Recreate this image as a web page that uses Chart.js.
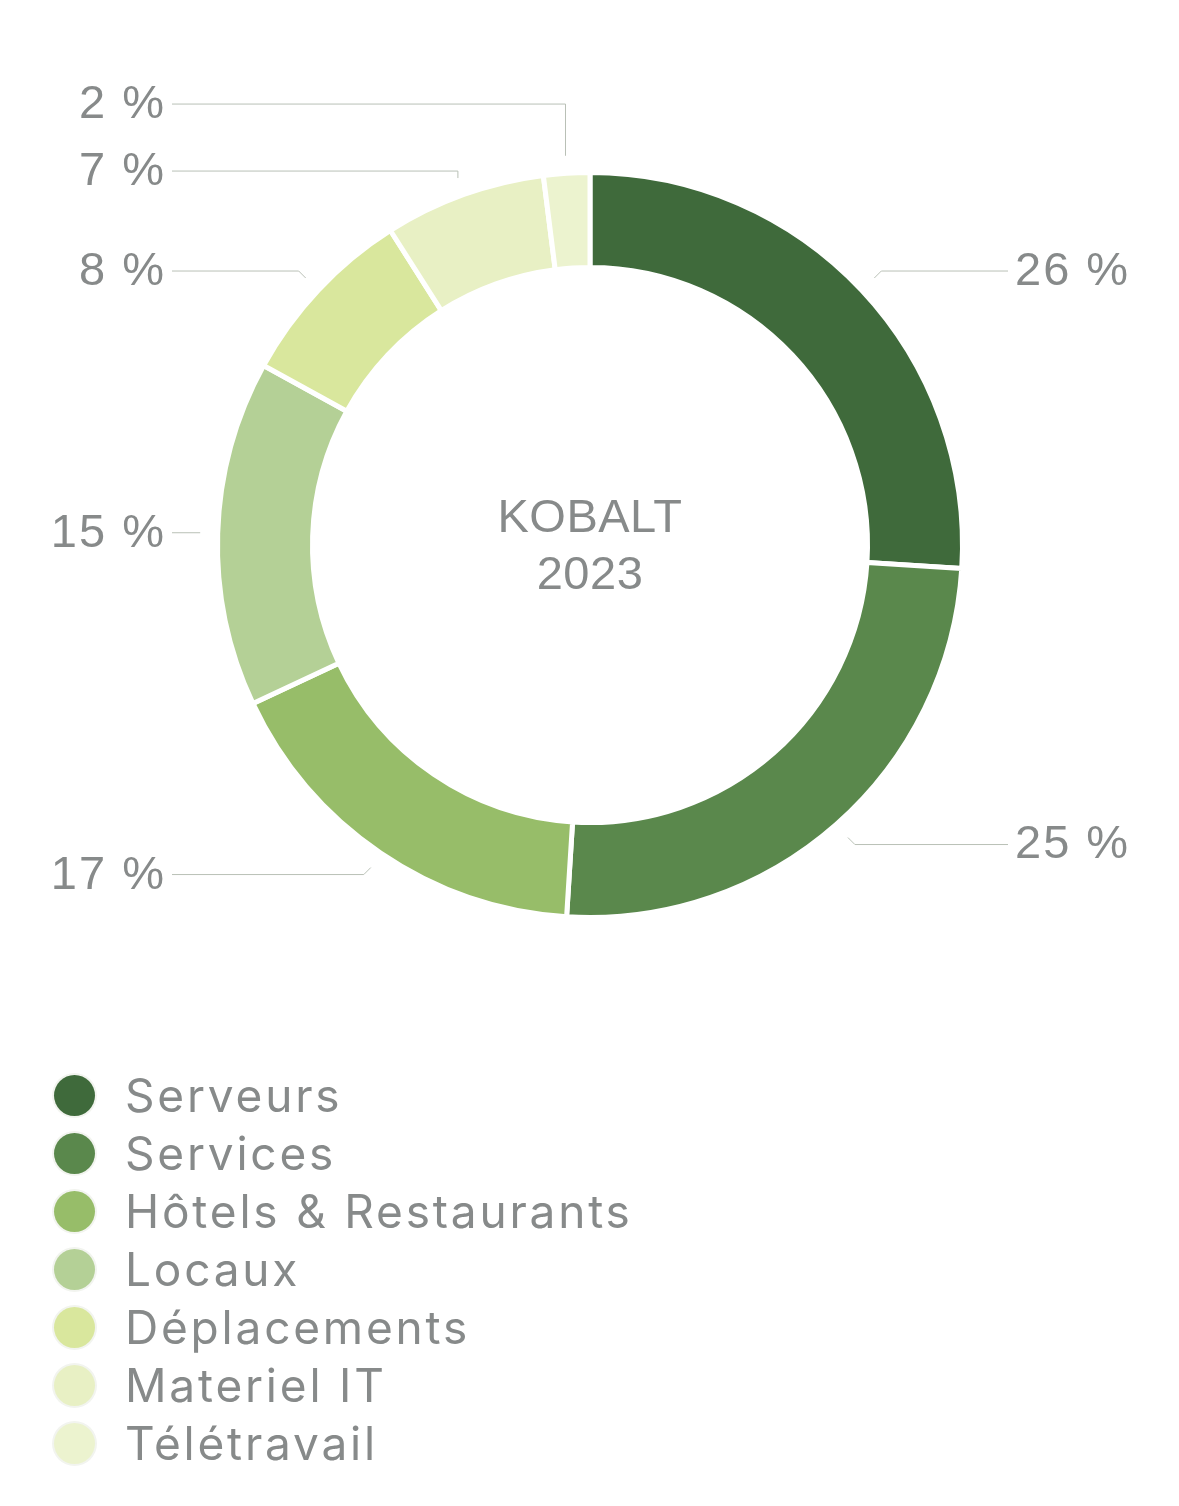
<!DOCTYPE html>
<html><head><meta charset="utf-8">
<script src="https://cdn.jsdelivr.net/npm/chart.js@4/dist/chart.umd.min.js"></script>
<style>
html,body{margin:0;padding:0;background:#fff;}
#page{position:relative;width:1179px;height:1506px;overflow:hidden;}
#c{position:absolute;left:0;top:0;}
#legend{position:absolute;left:0;top:1066px;margin:0;padding:0;list-style:none;}
#legend li{height:58px;display:flex;align-items:center;font-family:Inter,"Open Sans",sans-serif;font-size:46px;color:#878a8a;letter-spacing:2.8px;white-space:nowrap;}
#legend .dot{display:inline-block;width:41px;height:41px;border-radius:50%;margin-left:54px;margin-right:30px;box-shadow:0 0 0 2px #f2f4ef;flex:none;}
</style></head><body>
<div id="page">
<canvas id="c" width="1179" height="1090"></canvas>
<ul id="legend"></ul>
</div>
<script>
const categories = ['Serveurs','Services','Hôtels & Restaurants','Locaux','Déplacements','Materiel IT','Télétravail'];
const values = [26,25,17,15,8,7,2];
const colors = ['#3f6a3b','#5a884c','#97bd69','#b4d096','#d9e79d','#e8f0c4','#ecf3cf'];
const centerLines = ['KOBALT','2023'];
const unit = ' %';

const TEXT = '#878a8a';
const LINE = '#b9c0b6';

const leaderPlugin = {
  id:'leaders',
  afterDatasetsDraw(chart){
    const ctx = chart.ctx;
    const meta = chart.getDatasetMeta(0);
    const items = meta.data.map((arc,i)=>{
      const p = arc.getProps(['x','y','startAngle','endAngle','outerRadius'], true);
      const mid = (p.startAngle+p.endAngle)/2;
      const c = Math.cos(mid), s = Math.sin(mid);
      const r = p.outerRadius + 17.5;
      const ax = p.x + c*r, ay = p.y + s*r;
      const right = c >= 0;
      let mode, ly, ex;
      if (Math.abs(s) < 0.3){ mode='straight'; ly = ay; ex = ax; }
      else if (Math.abs(c) < 0.45){ mode='vertical'; ly = ay + Math.sign(s)*7; ex = ax; }
      else { mode='diag'; ly = ay + Math.sign(s)*7; ex = ax + (right?7:-7); }
      const lineEnd = p.x + (right?1:-1)*(p.outerRadius + 45.5);
      return {i, ax, ay, ly, ex, mode, right, lineEnd};
    });
    [true,false].forEach(side=>{
      const list = items.filter(o=>o.right===side).sort((a,b)=>b.ly-a.ly);
      for (let k=1;k<list.length;k++){
        if (list[k].ly > list[k-1].ly - 67){
          list[k].ly = list[k-1].ly - 67;
          list[k].mode = 'vertical'; list[k].ex = list[k].ax;
        }
      }
    });
    ctx.save();
    ctx.strokeStyle = LINE; ctx.lineWidth = 1;
    items.forEach(o=>{
      ctx.beginPath();
      ctx.moveTo(o.ax, o.ay);
      if (o.mode==='vertical') ctx.lineTo(o.ax, o.ly);
      else if (o.mode==='diag') ctx.lineTo(o.ex, o.ly);
      ctx.lineTo(o.lineEnd, o.ly);
      ctx.stroke();
    });
    ctx.fillStyle = TEXT;
    ctx.font = '47px "Liberation Sans", Arial, sans-serif';
    ctx.textBaseline = 'middle';
    try { ctx.letterSpacing = '2px'; } catch(e){}
    items.forEach(o=>{
      const val = chart.data.datasets[0].data[o.i];
      ctx.textAlign = o.right ? 'left' : 'right';
      ctx.fillText(val + unit, o.lineEnd + (o.right?7:-6), o.ly + 1);
    });
    try { ctx.letterSpacing = '0.5px'; } catch(e){}
    ctx.font = '47px "Liberation Sans", Arial, sans-serif';
    const a = meta.data[0];
    ctx.textAlign = 'center';
    ctx.fillText(centerLines[0], a.x, a.y - 26);
    ctx.fillText(centerLines[1], a.x, a.y + 31);
    ctx.restore();
  }
};

const chart = new Chart(document.getElementById('c'), {
  type:'doughnut',
  data:{
    labels: categories,
    datasets:[{
      data: values,
      backgroundColor: colors,
      borderColor:'#ffffff',
      borderWidth:5,
      hoverOffset:0
    }]
  },
  options:{
    responsive:false,
    animation:false,
    radius:372.5,
    cutout:'74.5%',
    layout:{padding:{left:1}},
    plugins:{legend:{display:false}, tooltip:{enabled:false}}
  },
  plugins:[leaderPlugin]
});

const ul = document.getElementById('legend');
categories.forEach((name,i)=>{
  const li = document.createElement('li');
  const dot = document.createElement('span');
  dot.className='dot';
  dot.style.background = chart.data.datasets[0].backgroundColor[i];
  li.appendChild(dot);
  li.appendChild(document.createTextNode(name));
  ul.appendChild(li);
});
</script>
</body></html>
